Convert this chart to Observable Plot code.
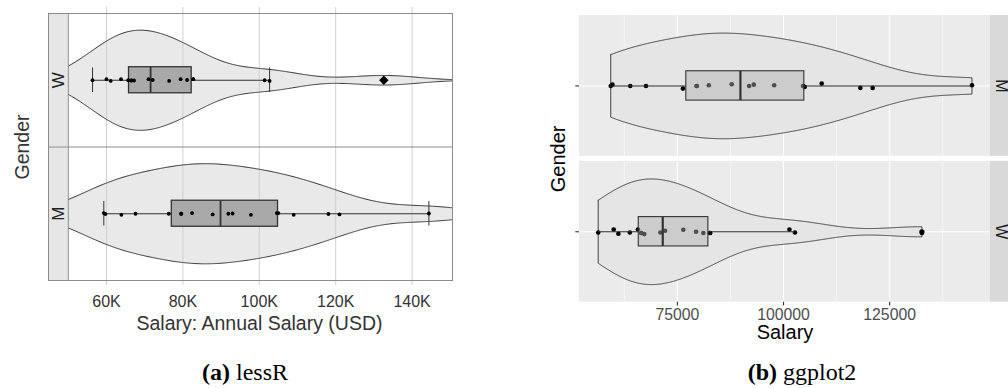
<!DOCTYPE html>
<html><head><meta charset="utf-8">
<script src="https://cdn.jsdelivr.net/npm/d3@7"></script>
<script src="https://cdn.jsdelivr.net/npm/@observablehq/plot@0.6"></script>
<style>
html,body{margin:0;padding:0;background:#fff}
body{width:1008px;height:388px;overflow:hidden;position:relative;font-family:"Liberation Sans",Arial,sans-serif}
#a{position:absolute;left:0;top:0}
#b{position:absolute;left:540px;top:0}
.cap{position:absolute;top:357px;width:260px;text-align:center;font-family:"Liberation Serif","DejaVu Serif",serif;font-size:24px;line-height:30px;color:#000}
svg{overflow:visible}
</style></head><body>
<div id="a"></div><div id="b"></div>
<div class="cap" style="left:115px"><b>(a)</b> lessR</div>
<div class="cap" style="left:672px"><b>(b)</b> ggplot2</div>
<script>
// ---------------- data ----------------
const genders = ["W", "M"];
const salaryW = [56350, 60000, 61100, 63800, 65700, 66500, 66500, 67200, 71000, 72100, 76400, 79400, 81100, 82700, 82700, 101400, 102700, 132600];
const salaryM = [59300, 59700, 63900, 67600, 76300, 79500, 79600, 82400, 87800, 91900, 93000, 97800, 104600, 105000, 109000, 118100, 121000, 144400];
// kernel bandwidths of the violins (W, M), estimated from their shapes
const bandwidths = [9000, 10500];
// vertical jitter of the dots (in band units), per value above
const jitterLessRW = [0, .008, -.005, .008, 0, -.002, -.002, -.002, .008, .002, -.005, .008, .002, .008, .008, 0, -.005, 0];
const jitterLessRM = [.005, -.002, -.008, 0, 0, 0, 0, .005, -.005, 0, .002, -.008, .005, .005, -.008, -.002, -.005, .002];
const jitterGgplotW = [-.006, .02, -.017, -.006, .02, -.011, -.011, -.02, -.006, .0085, .017, 0, -.011, -.011, -.011, .02, -.006, -.011];
const jitterGgplotM = [0, .011, 0, 0, -.023, 0, 0, .006, .014, 0, .011, .006, 0, -.0085, .02, -.017, -.017, .006];
const ticksLessR = [60000, 80000, 100000, 120000, 140000];
const ticksGgplot = [75000, 100000, 125000];
const minorGgplot = [62500, 87500, 112500, 137500];
const labelLessRX = "Salary: Annual Salary (USD)";
const labelGgplotX = "Salary";
const labelY = "Gender";

// ---------------- helpers ----------------
function kde(v, bw, xs) {
  return xs.map(x => d3.sum(v, d => Math.exp(-0.5 * ((x - d) / bw) ** 2)));
}
function boxStats(v) {
  const s = v.slice().sort(d3.ascending);
  const q1 = d3.quantile(s, .25), med = d3.quantile(s, .5), q3 = d3.quantile(s, .75);
  const iqr = q3 - q1;
  const lo = d3.min(s.filter(d => d >= q1 - 1.5 * iqr));
  const hi = d3.max(s.filter(d => d <= q3 + 1.5 * iqr));
  return {q1, med, q3, lo, hi, out: s.filter(d => d < lo || d > hi)};
}
const fontSans = "Liberation Sans, Arial, Helvetica, sans-serif";
const bwOf = g => bandwidths[genders.indexOf(g)];

// ================= (a) lessR =================
{
  const X0 = 44820, XP = 50000, X1 = 150580;   // strip start, panel start, panel end
  const groups = [
    {g: "W", v: salaryW, jit: jitterLessRW, c: 1.5},
    {g: "M", v: salaryM, jit: jitterLessRM, c: 0.5}
  ];
  const halfW = 0.375, boxH = 0.0975, capH = 0.092;
  const vio = groups.flatMap(G => {
    const xs = d3.range(0, 401).map(i => XP + i * (X1 - XP) / 400);
    const ds = kde(G.v, bwOf(G.g), xs), m = d3.max(ds);
    return xs.map((x, i) => ({g: G.g, x, y1: G.c - ds[i] / m * halfW, y2: G.c + ds[i] / m * halfW}));
  });
  const stats = groups.map(G => ({g: G.g, c: G.c, ...boxStats(G.v)}));
  const pts = groups.flatMap(G => G.v.map((v, i) => ({v, y: G.c + G.jit[i]})));
  const outs = stats.flatMap(s => s.out.map(v => ({v, y: s.c})));
  const edge = "#8c8c8c";
  const chart = Plot.plot({
    width: 460, height: 335,
    marginLeft: 48, marginRight: 8, marginTop: 13, marginBottom: 55,
    x: {domain: [X0, X1], axis: null},
    y: {domain: [0, 2], axis: null},
    style: {fontFamily: fontSans, background: "transparent", overflow: "visible"},
    marks: [
      Plot.areaY(vio, {x: "x", y1: "y1", y2: "y2", z: "g", fill: "#e9e9e9"}),
      Plot.ruleX(ticksLessR, {x: d => d, y1: -0.037, y2: 2.045, stroke: "#d0d0d0", strokeWidth: 1}),
      Plot.line(vio, {x: "x", y: "y1", z: "g", stroke: "#333", strokeWidth: 1}),
      Plot.line(vio, {x: "x", y: "y2", z: "g", stroke: "#333", strokeWidth: 1}),
      Plot.ruleY(stats, {y: "c", x1: "lo", x2: "hi", stroke: "#333", strokeWidth: 1}),
      Plot.ruleX(stats, {x: "lo", y1: d => d.c - capH, y2: d => d.c + capH, stroke: "#333", strokeWidth: 1}),
      Plot.ruleX(stats, {x: "hi", y1: d => d.c - capH, y2: d => d.c + capH, stroke: "#333", strokeWidth: 1}),
      Plot.rect(stats, {x1: "q1", x2: "q3", y1: d => d.c - boxH, y2: d => d.c + boxH, fill: "#a9a9a9", stroke: "#333", strokeWidth: 1.3}),
      Plot.ruleX(stats, {x: "med", y1: d => d.c - boxH, y2: d => d.c + boxH, stroke: "#333", strokeWidth: 1.8}),
      Plot.dot(pts, {x: "v", y: "y", r: 1.9, fill: "#000", stroke: null}),
      Plot.dot(outs, {x: "v", y: "y", r: 4.2, symbol: "diamond2", fill: "#000", stroke: null}),
      // strip
      Plot.rect(groups, {x1: X0, x2: XP, y1: d => d.c - 0.5, y2: d => d.c + 0.5, fill: "#e6e6e6", stroke: null}),
      Plot.text(groups, {x: (X0 + XP) / 2, y: "c", text: "g", rotate: -90, fontSize: 17, fill: "#222"}),
      Plot.ruleX([XP], {stroke: edge}),
      Plot.ruleY([1], {stroke: edge}),
      Plot.frame({stroke: edge}),
      // tick labels and titles
      Plot.text(ticksLessR, {x: d => d, frameAnchor: "bottom", lineAnchor: "middle", dy: 21, text: d => d / 1000 + "K", fontSize: 16, fill: "#333"}),
      Plot.text([labelLessRX], {frameAnchor: "bottom", lineAnchor: "middle", textAnchor: "middle", dx: 9, dy: 43, text: d => d, fontSize: 19.5, fill: "#333"}),
      Plot.text([labelY], {frameAnchor: "left", lineAnchor: "middle", textAnchor: "middle", dx: -26, rotate: -90, text: d => d, fontSize: 19.5, fill: "#333"})
    ]
  });
  document.getElementById("a").append(chart);
}

// ================= (b) ggplot2 =================
{
  const XL = 51940, XR = 148760, pxPerX = 4.245 / 1000, pxPerY = 117.4;
  const gap = 5 / pxPerY;
  const panels = [
    {g: "W", v: salaryW, jit: jitterGgplotW, lo: 0, hi: 1.2},
    {g: "M", v: salaryM, jit: jitterGgplotM, lo: 1.2 + gap, hi: 2.4 + gap}
  ].map(p => ({...p, c: (p.lo + p.hi) / 2}));
  const halfW = 0.45, boxH = 0.125;
  const vioArea = [], vioLine = [];
  panels.forEach(G => {
    const mn = d3.min(G.v), mx = d3.max(G.v);
    const xs = d3.range(0, 512).map(i => mn + i * (mx - mn) / 511);
    const ds = kde(G.v, bwOf(G.g), xs), m = d3.max(ds);
    const hs = ds.map(d => d / m * halfW);
    xs.forEach((x, i) => vioArea.push({g: G.g, x, y1: G.c - hs[i], y2: G.c + hs[i]}));
    const path = xs.map((x, i) => ({g: G.g, x, y: G.c + hs[i]}))
      .concat(xs.map((x, i) => ({g: G.g, x, y: G.c - hs[i]})).reverse());
    path.push(path[0]);
    vioLine.push(...path);
  });
  const stats = panels.map(G => ({g: G.g, c: G.c, ...boxStats(G.v)}));
  const pts = panels.flatMap(G => G.v.map((v, i) => ({v, y: G.c + G.jit[i]})));
  const outs = stats.flatMap(s => s.out.map(v => ({v, y: s.c})));
  const stripX1 = XR + 22 / pxPerX;
  const chart = Plot.plot({
    width: 468, height: 345,
    marginLeft: 39, marginRight: 18, marginTop: 15, marginBottom: 43.3,
    x: {domain: [XL, XR], axis: null},
    y: {domain: [0, 2.4 + gap], axis: null},
    style: {fontFamily: fontSans, background: "transparent", overflow: "visible"},
    marks: [
      Plot.rect(panels, {x1: XL, x2: XR, y1: "lo", y2: "hi", fill: "#ebebeb"}),
      Plot.rect(panels, {x1: XR, x2: stripX1, y1: "lo", y2: "hi", fill: "#d9d9d9"}),
      ...panels.map(p => Plot.ruleX(minorGgplot, {x: d => d, y1: p.lo, y2: p.hi, stroke: "#fff", strokeWidth: 0.55})),
      ...panels.map(p => Plot.ruleX(ticksGgplot, {x: d => d, y1: p.lo, y2: p.hi, stroke: "#fff", strokeWidth: 1.1})),
      Plot.ruleY(panels, {y: "c", x1: XL, x2: XR, stroke: "#fff", strokeWidth: 1.1}),
      Plot.areaY(vioArea, {x: "x", y1: "y1", y2: "y2", z: "g", fill: "#e5e5e5"}),
      Plot.line(vioLine, {x: "x", y: "y", z: "g", stroke: "#333", strokeWidth: 0.9, curve: "linear"}),
      Plot.dot(pts, {x: "v", y: "y", r: 2.3, fill: "#000", stroke: null}),
      Plot.ruleY(stats, {y: "c", x1: "lo", x2: "q1", stroke: "#333", strokeWidth: 1.1}),
      Plot.ruleY(stats, {y: "c", x1: "q3", x2: "hi", stroke: "#333", strokeWidth: 1.1}),
      Plot.rect(stats, {x1: "q1", x2: "q3", y1: d => d.c - boxH, y2: d => d.c + boxH, fill: "#acacac", fillOpacity: 0.45, stroke: "#333", strokeWidth: 1.1}),
      Plot.ruleX(stats, {x: "med", y1: d => d.c - boxH, y2: d => d.c + boxH, stroke: "#333", strokeWidth: 2.2}),
      Plot.dot(outs, {x: "v", y: "y", r: 2.6, fill: "#000", stroke: null}),
      // strip labels
      Plot.text(panels, {x: XR + 10.5 / pxPerX, y: "c", text: "g", rotate: 90, fontSize: 16, fill: "#1a1a1a"}),
      // axis ticks
      Plot.ruleX(ticksGgplot, {x: d => d, y1: -3.7 / pxPerY, y2: 0, stroke: "#333", strokeWidth: 1.1}),
      Plot.ruleY(panels, {y: "c", x1: XL - 3.7 / pxPerX, x2: XL, stroke: "#333", strokeWidth: 1.1}),
      Plot.text(ticksGgplot, {x: d => d, frameAnchor: "bottom", lineAnchor: "middle", dy: 12.6, text: d => String(d), fontSize: 15.8, fill: "#4d4d4d"}),
      Plot.text([labelGgplotX], {frameAnchor: "bottom", lineAnchor: "middle", textAnchor: "middle", dy: 30.5, text: d => d, fontSize: 20, fill: "#000"}),
      Plot.text([labelY], {frameAnchor: "left", lineAnchor: "middle", textAnchor: "middle", dx: -21, rotate: -90, text: d => d, fontSize: 20, fill: "#000"})
    ]
  });
  document.getElementById("b").append(chart);
}
</script>
</body></html>
